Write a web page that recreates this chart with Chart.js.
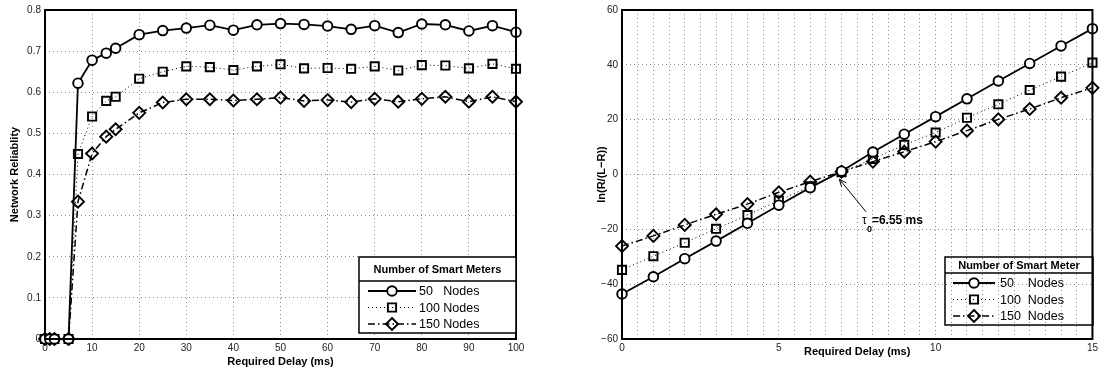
<!DOCTYPE html>
<html>
<head>
<meta charset="utf-8">
<script src="https://cdn.jsdelivr.net/npm/chart.js"></script>
<style>
    html, body { margin: 0; padding: 0; background: #fff; }
    #wrap { position: relative; width: 1101px; height: 374px; }
    #c1 { position: absolute; left: 0; top: 0; }
    #c2 { position: absolute; left: 550px; top: 0; }
</style>
</head>
<body>
<div id="wrap">
    <canvas id="c1" width="550" height="374"></canvas>
    <canvas id="c2" width="551" height="374"></canvas>
</div>
<script>
// Dados do gráfico da esquerda (confiabilidade)
const atraso = [0, 1, 2, 5, 7, 10, 13, 15, 20, 25, 30, 35, 40, 45, 50, 55, 60, 65, 70, 75, 80, 85, 90, 95, 100];
const rel50 = [0, 0, 0, 0, 0.622, 0.678, 0.695, 0.707, 0.740, 0.750, 0.756, 0.763, 0.751, 0.764, 0.767, 0.765, 0.761, 0.753, 0.762, 0.745, 0.766, 0.764, 0.749, 0.762, 0.746];
const rel100 = [0, 0, 0, 0, 0.450, 0.541, 0.579, 0.589, 0.633, 0.650, 0.663, 0.661, 0.654, 0.663, 0.668, 0.658, 0.659, 0.657, 0.663, 0.653, 0.666, 0.665, 0.658, 0.669, 0.657];
const rel150 = [0, 0, 0, 0, 0.334, 0.451, 0.492, 0.510, 0.550, 0.575, 0.583, 0.583, 0.580, 0.583, 0.587, 0.579, 0.581, 0.576, 0.584, 0.577, 0.584, 0.589, 0.577, 0.589, 0.577];

// Dados do gráfico da direita (ln(R/(L-R)))
const atrasoLn = [0, 1, 2, 3, 4, 5, 6, 7, 8, 9, 10, 11, 12, 13, 14, 15];
const ln50 = [-43.6, -37.3, -30.7, -24.3, -17.8, -11.2, -4.8, 1.2, 8.2, 14.7, 21.1, 27.6, 34.1, 40.5, 46.9, 53.2];
const ln100 = [-34.8, -29.8, -24.9, -19.8, -14.8, -9.5, -4.3, 0.8, 5.7, 10.8, 15.3, 20.7, 25.6, 30.8, 35.7, 40.8];
const ln150 = [-26.1, -22.4, -18.4, -14.5, -10.8, -6.5, -2.6, 1.0, 4.7, 8.3, 12.0, 16.0, 20.1, 23.9, 28.0, 31.6];

const legendaEsq = ["50   Nodes", "100 Nodes", "150 Nodes"];
const legendaDir = ["50    Nodes", "100  Nodes", "150  Nodes"];

const FONTE = "'Liberation Sans', Arial, Helvetica, sans-serif";

function estiloSerie(i) {
    if (i === 0) return { borderDash: [], borderWidth: 1.8, pointStyle: "circle", pointRadius: 4.8, fill: "#fff" };
    if (i === 1) return { borderDash: [1, 3], borderWidth: 1, pointStyle: "rect", pointRadius: 5.8, fill: "rgba(0,0,0,0)" };
    return { borderDash: [7, 3, 1.5, 3], borderWidth: 1.5, pointStyle: "rectRot", pointRadius: 6, fill: "rgba(0,0,0,0)" };
}

function montarSeries(xs, listas, nomes) {
    return listas.map((ys, i) => {
        const e = estiloSerie(i);
        return {
            label: nomes[i],
            data: xs.map((x, k) => ({ x: x, y: ys[k] })),
            borderColor: "#000",
            borderWidth: e.borderWidth,
            borderDash: e.borderDash,
            pointStyle: e.pointStyle,
            pointRadius: e.pointRadius,
            pointBorderWidth: 1.9,
            pointBorderColor: "#000",
            pointBackgroundColor: e.fill,
            tension: 0,
            fill: false,
            clip: false
        };
    });
}

function desenharMarcador(ctx, estilo, x, y, r, fundo) {
    ctx.beginPath();
    if (estilo === "circle") {
        ctx.arc(x, y, r, 0, Math.PI * 2);
    } else if (estilo === "rect") {
        const s = r * Math.SQRT1_2;
        ctx.rect(x - s, y - s, 2 * s, 2 * s);
    } else {
        ctx.moveTo(x, y - r);
        ctx.lineTo(x + r, y);
        ctx.lineTo(x, y + r);
        ctx.lineTo(x - r, y);
        ctx.closePath();
    }
    ctx.fillStyle = fundo;
    ctx.fill();
    ctx.lineWidth = 1.9;
    ctx.strokeStyle = "#000";
    ctx.setLineDash([]);
    ctx.stroke();
}

// Moldura, legenda e anotação desenhadas por cima do gráfico
const pluginMoldura = {
    id: "moldura",
    afterDraw(chart, args, opts) {
        const ctx = chart.ctx;
        const a = chart.chartArea;
        ctx.save();
        ctx.setLineDash([]);
        ctx.strokeStyle = "#000";
        ctx.lineWidth = 2;
        ctx.strokeRect(a.left, a.top, a.right - a.left, a.bottom - a.top);

        const L = opts.legenda;
        if (L) {
            if (L.branco) {
                ctx.fillStyle = "#fff";
                ctx.fillRect(L.x, L.y, L.w, L.h);
            }
            ctx.lineWidth = 1.5;
            ctx.strokeRect(L.x, L.y, L.w, L.h);
            ctx.beginPath();
            ctx.moveTo(L.x, L.sep);
            ctx.lineTo(L.x + L.w, L.sep);
            ctx.stroke();
            ctx.fillStyle = "#000";
            ctx.font = "bold " + L.tituloFonte + "px " + FONTE;
            ctx.textAlign = "center";
            ctx.textBaseline = "middle";
            ctx.fillText(L.titulo, L.x + L.w / 2, (L.y + L.sep) / 2 + 1);
            chart.data.datasets.forEach((ds, i) => {
                const yy = L.linhas[i];
                ctx.beginPath();
                ctx.setLineDash(ds.borderDash);
                ctx.lineWidth = ds.borderWidth;
                ctx.strokeStyle = "#000";
                ctx.moveTo(L.linhaX0, yy);
                ctx.lineTo(L.linhaX1, yy);
                ctx.stroke();
                desenharMarcador(ctx, ds.pointStyle, (L.linhaX0 + L.linhaX1) / 2, yy, ds.pointRadius, ds.pointBackgroundColor);
                ctx.fillStyle = "#000";
                ctx.font = "12.5px " + FONTE;
                ctx.textAlign = "left";
                ctx.textBaseline = "middle";
                ctx.fillText(ds.label, L.textoX, yy + 1);
            });
        }

        const N = opts.nota;
        if (N) {
            const sx = chart.scales.x, sy = chart.scales.y;
            const px = sx.getPixelForValue(N.ponta.x), py = sy.getPixelForValue(N.ponta.y);
            const qx = sx.getPixelForValue(N.cauda.x), qy = sy.getPixelForValue(N.cauda.y);
            ctx.setLineDash([]);
            ctx.strokeStyle = "#000";
            ctx.lineWidth = 1;
            ctx.beginPath();
            ctx.moveTo(qx, qy);
            ctx.lineTo(px, py);
            const ang = Math.atan2(py - qy, px - qx);
            const t = 8;
            ctx.moveTo(px, py);
            ctx.lineTo(px - t * Math.cos(ang - 0.4), py - t * Math.sin(ang - 0.4));
            ctx.moveTo(px, py);
            ctx.lineTo(px - t * Math.cos(ang + 0.4), py - t * Math.sin(ang + 0.4));
            ctx.stroke();
            const tx = sx.getPixelForValue(N.texto.x), ty = sy.getPixelForValue(N.texto.y);
            ctx.fillStyle = "#000";
            ctx.textAlign = "left";
            ctx.textBaseline = "alphabetic";
            ctx.font = "12px " + FONTE;
            ctx.fillText("τ", tx, ty + 4);
            ctx.font = "bold 9px " + FONTE;
            ctx.fillText("0", tx + 5, ty + 12);
            ctx.font = "bold 12px " + FONTE;
            ctx.fillText("=6.55 ms", tx + 10, ty + 4);
        }
        ctx.restore();
    }
};

function eixo(opts) {
    return {
        type: "linear",
        min: opts.min,
        max: opts.max,
        ticks: {
            stepSize: opts.passo,
            autoSkip: false,
            maxRotation: 0,
            padding: opts.padTick,
            color: "#222",
            font: { family: FONTE, size: 10 },
            callback: opts.rotulo
        },
        grid: { color: "#8a8a8a", lineWidth: 1, drawTicks: false },
        border: { display: false, dash: [1, 3] },
        title: {
            display: true,
            text: opts.titulo,
            color: "#000",
            font: { family: FONTE, size: 11, weight: "bold" },
            padding: opts.padTitulo
        },
        afterFit: opts.ajuste
    };
}

const comum = {
    responsive: false,
    animation: false,
    events: [],
    plugins: { legend: { display: false }, tooltip: { enabled: false } }
};

new Chart(document.getElementById("c1").getContext("2d"), {
    type: "line",
    data: { datasets: montarSeries(atraso, [rel50, rel100, rel150], legendaEsq) },
    plugins: [pluginMoldura],
    options: Object.assign({}, comum, {
        layout: { padding: { left: 0, right: 34, top: 10, bottom: 0 } },
        plugins: Object.assign({}, comum.plugins, {
            moldura: {
                legenda: {
                    x: 359, y: 257, w: 157, h: 76, sep: 281, branco: true,
                    titulo: "Number of Smart Meters", tituloFonte: 11,
                    linhas: [291, 307.5, 324], linhaX0: 368, linhaX1: 416, textoX: 419
                }
            }
        }),
        scales: {
            x: eixo({ min: 0, max: 100, passo: 10, padTick: 3, titulo: "Required Delay (ms)",
                padTitulo: { top: 0, bottom: 5 }, ajuste: s => { s.height = 35; } }),
            y: eixo({ min: 0, max: 0.8, passo: 0.1, padTick: 4, titulo: "Network Reliablity",
                padTitulo: { top: 8, bottom: 0 }, ajuste: s => { s.width = 45; },
                rotulo: v => (v === 0 ? "0" : v.toFixed(1)) })
        }
    })
});

new Chart(document.getElementById("c2").getContext("2d"), {
    type: "line",
    data: { datasets: montarSeries(atrasoLn, [ln50, ln100, ln150], legendaDir) },
    plugins: [pluginMoldura],
    options: Object.assign({}, comum, {
        layout: { padding: { left: 0, right: 8, top: 10, bottom: 0 } },
        plugins: Object.assign({}, comum.plugins, {
            moldura: {
                legenda: {
                    x: 395, y: 257, w: 148, h: 68, sep: 273, branco: false,
                    titulo: "Number of Smart Meter", tituloFonte: 11,
                    linhas: [283, 299.5, 316], linhaX0: 403, linhaX1: 445, textoX: 450
                },
                nota: {
                    ponta: { x: 6.93, y: -1.7 },
                    cauda: { x: 7.78, y: -13.6 },
                    texto: { x: 7.65, y: -16.6 }
                }
            }
        }),
        scales: {
            x: eixo({ min: 0, max: 15, passo: 0.5, padTick: 3, titulo: "Required Delay (ms)",
                padTitulo: { top: 0, bottom: 15 }, ajuste: s => { s.height = 35; },
                rotulo: v => (v % 5 === 0 ? String(v) : "") }),
            y: eixo({ min: -60, max: 60, passo: 20, padTick: 4, titulo: "ln(R/(L\u2212R))",
                padTitulo: { top: 45, bottom: 0 }, ajuste: s => { s.width = 72; },
                rotulo: v => String(v).replace("-", "\u2212") })
        }
    })
});
</script>
</body>
</html>
